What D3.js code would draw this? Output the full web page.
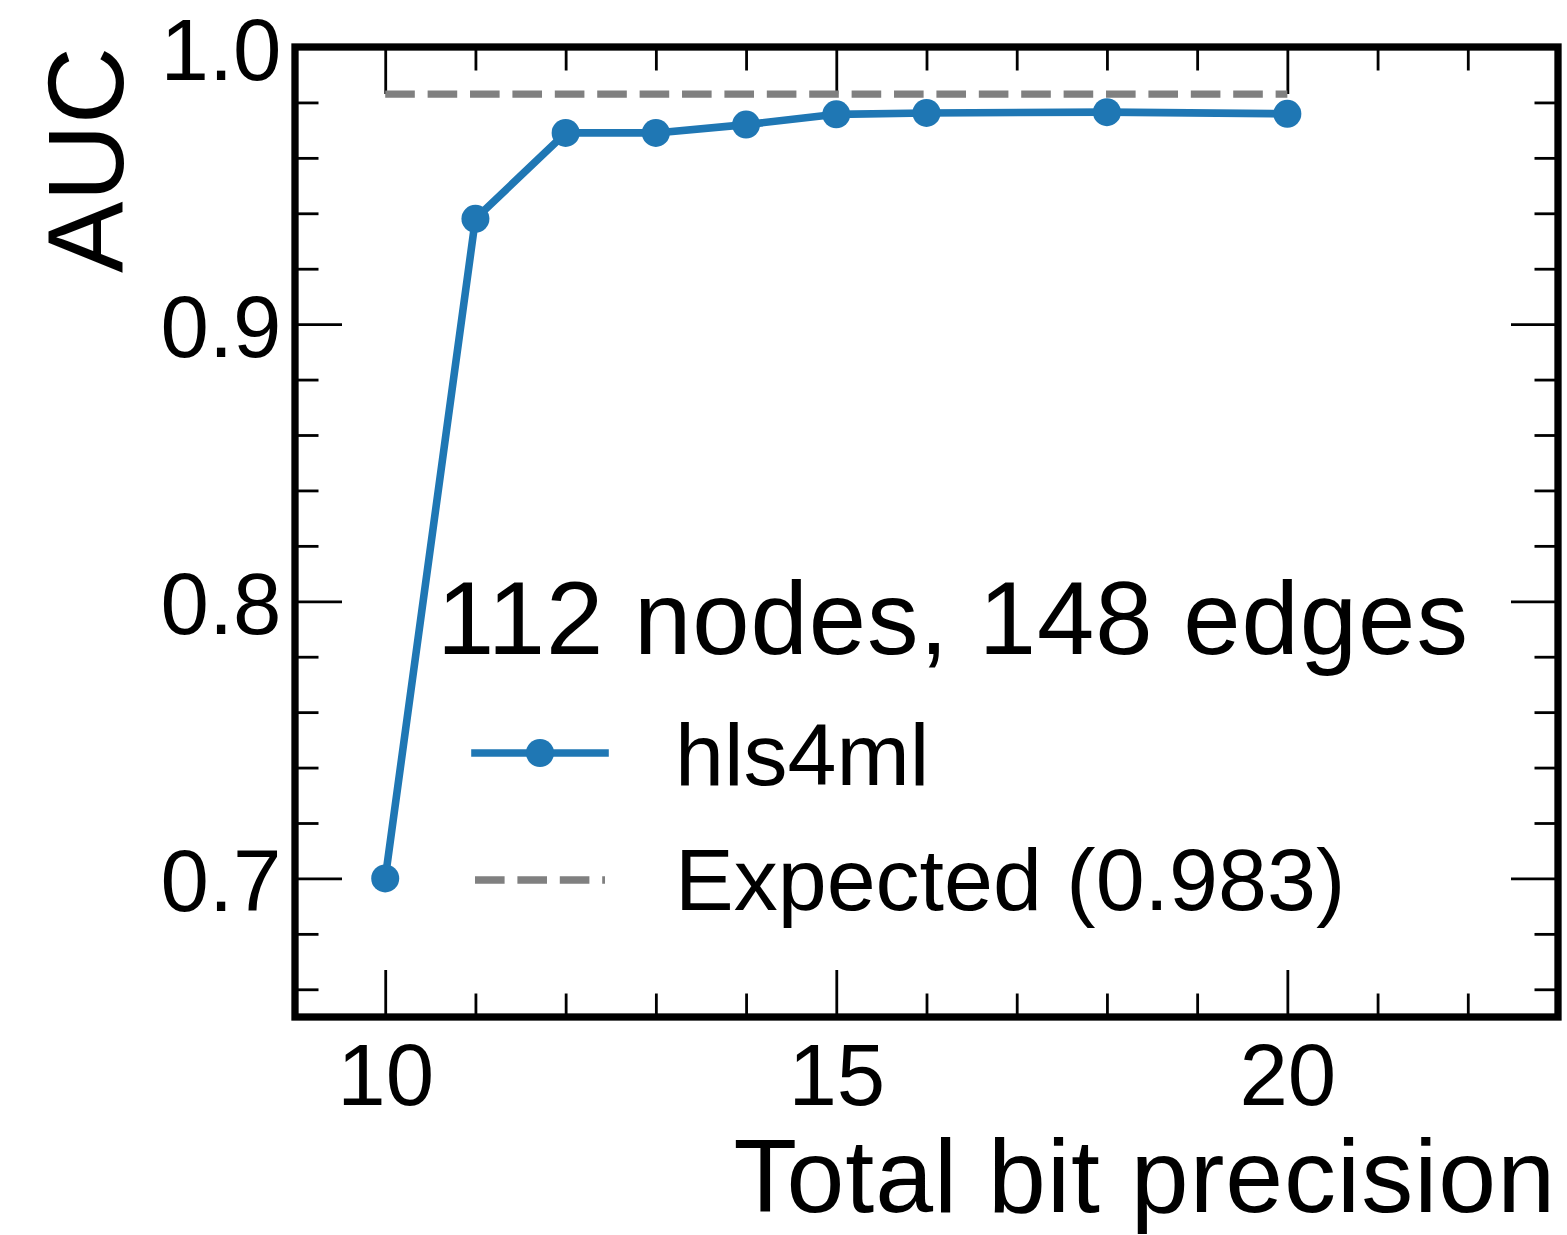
<!DOCTYPE html>
<html>
<head>
<meta charset="utf-8">
<script src="https://cdn.jsdelivr.net/npm/d3@7"></script>
<style>
  html, body { margin: 0; padding: 0; background: #fff; }
  svg { display: block; font-family: "Liberation Sans", Arial, Helvetica, sans-serif; }
</style>
</head>
<body>
<svg id="chart" width="1567" height="1235"></svg>
<script>
// AUC versus total bit precision of the fixed-point model
const bitPrecision = [10, 11, 12, 13, 14, 15, 16, 18, 20];
const aucValues    = [0.700, 0.938, 0.969, 0.969, 0.972, 0.9757, 0.9762, 0.9765, 0.9759];
const expectedAuc  = 0.983;
const expectedSpan = [10, 20];

const xMajorTicks = [10, 15, 20];
const xMinorTicks = [11, 12, 13, 14, 16, 17, 18, 19, 21, 22];
const yMajorTicks = [0.7, 0.8, 0.9, 1.0];
const yMinorTicks = [0.66, 0.68, 0.72, 0.74, 0.76, 0.78, 0.82, 0.84, 0.86, 0.88, 0.92, 0.94, 0.96, 0.98];

const legendTitle = "112 nodes, 148 edges";
const seriesLabel = "hls4ml";
const expectedLabel = "Expected (" + expectedAuc.toFixed(3) + ")";
const xTitle = "Total bit precision";
const yTitle = "AUC";

const blue = "#1f77b4";
const grey = "#808080";

const svg = d3.select("#chart");
const plot = { left: 295, right: 1558, top: 47, bottom: 1017 };

const x = d3.scaleLinear().domain([9, 23]).range([plot.left, plot.right]);
const y = d3.scaleLinear().domain([0.65, 1.0]).range([plot.bottom, plot.top]);

const tickFont = 87;
const majorLen = 47, minorLen = 23.5;

// Inward-pointing ticks on all four sides
function styleTicks(g, hideText) {
  g.select(".domain").remove();
  g.selectAll(".tick line").attr("stroke", "#000").attr("stroke-width", 2.8);
  if (hideText) g.selectAll(".tick text").remove();
  g.selectAll(".tick text").attr("fill", "#000").style("font-size", tickFont + "px");
}

// bottom major (with labels)
svg.append("g")
  .attr("transform", `translate(0,${plot.bottom})`)
  .call(d3.axisBottom(x).tickValues(xMajorTicks).tickFormat(d3.format("d"))
        .tickSize(-majorLen).tickPadding(26))
  .call(g => styleTicks(g, false));
svg.append("g")
  .attr("transform", `translate(0,${plot.bottom})`)
  .call(d3.axisBottom(x).tickValues(xMinorTicks).tickSize(-minorLen))
  .call(g => styleTicks(g, true));
// top mirrored
svg.append("g")
  .attr("transform", `translate(0,${plot.top})`)
  .call(d3.axisTop(x).tickValues(xMajorTicks).tickSize(-majorLen))
  .call(g => styleTicks(g, true));
svg.append("g")
  .attr("transform", `translate(0,${plot.top})`)
  .call(d3.axisTop(x).tickValues(xMinorTicks).tickSize(-minorLen))
  .call(g => styleTicks(g, true));
// left major (with labels)
svg.append("g")
  .attr("transform", `translate(${plot.left},0)`)
  .call(d3.axisLeft(y).tickValues(yMajorTicks).tickFormat(d3.format(".1f"))
        .tickSize(-majorLen).tickPadding(13.5))
  .call(g => styleTicks(g, false))
  .call(g => g.selectAll(".tick text").attr("dy", "0.37em"));
svg.append("g")
  .attr("transform", `translate(${plot.left},0)`)
  .call(d3.axisLeft(y).tickValues(yMinorTicks).tickSize(-minorLen))
  .call(g => styleTicks(g, true));
// right mirrored
svg.append("g")
  .attr("transform", `translate(${plot.right},0)`)
  .call(d3.axisRight(y).tickValues(yMajorTicks).tickSize(-majorLen))
  .call(g => styleTicks(g, true));
svg.append("g")
  .attr("transform", `translate(${plot.right},0)`)
  .call(d3.axisRight(y).tickValues(yMinorTicks).tickSize(-minorLen))
  .call(g => styleTicks(g, true));

// Expected AUC reference line
svg.append("line")
  .attr("x1", x(expectedSpan[0])).attr("x2", x(expectedSpan[1]))
  .attr("y1", y(expectedAuc)).attr("y2", y(expectedAuc))
  .attr("stroke", grey).attr("stroke-width", 7.4)
  .attr("stroke-dasharray", "29.6,12.8");

// hls4ml series
const pts = bitPrecision.map((b, i) => [b, aucValues[i]]);
svg.append("path")
  .datum(pts)
  .attr("fill", "none")
  .attr("stroke", blue).attr("stroke-width", 7.6)
  .attr("stroke-linejoin", "round").attr("stroke-linecap", "square")
  .attr("d", d3.line().x(d => x(d[0])).y(d => y(d[1])));
svg.append("g").selectAll("circle")
  .data(pts).join("circle")
  .attr("cx", d => x(d[0])).attr("cy", d => y(d[1]))
  .attr("r", 14).attr("fill", blue);

// Axes frame
svg.append("rect")
  .attr("x", plot.left).attr("y", plot.top)
  .attr("width", plot.right - plot.left).attr("height", plot.bottom - plot.top)
  .attr("fill", "none").attr("stroke", "#000").attr("stroke-width", 7.3);

// Axis titles (right / top aligned)
svg.append("text")
  .attr("x", 1556).attr("y", 1212)
  .attr("text-anchor", "end")
  .style("font-size", "104px")
  .style("letter-spacing", "1px")
  .text(xTitle);
svg.append("text")
  .attr("transform", "translate(123,47) rotate(-90)")
  .attr("text-anchor", "end")
  .style("font-size", "107px")
  .text(yTitle);

// Legend
const legend = svg.append("g");
legend.append("text")
  .attr("x", 953).attr("y", 654)
  .attr("text-anchor", "middle")
  .style("font-size", "103px")
  .style("letter-spacing", "1px")
  .text(legendTitle);
legend.append("line")
  .attr("x1", 475).attr("x2", 605).attr("y1", 753).attr("y2", 753)
  .attr("stroke", blue).attr("stroke-width", 7.6).attr("stroke-linecap", "square");
legend.append("circle")
  .attr("cx", 540).attr("cy", 753).attr("r", 14).attr("fill", blue);
legend.append("text")
  .attr("x", 675).attr("y", 785)
  .style("font-size", "88px")
  .text(seriesLabel);
legend.append("line")
  .attr("x1", 475).attr("x2", 605).attr("y1", 880).attr("y2", 880)
  .attr("stroke", grey).attr("stroke-width", 7.4)
  .attr("stroke-dasharray", "29.6,12.8");
legend.append("text")
  .attr("x", 675).attr("y", 910)
  .style("font-size", "88px")
  .text(expectedLabel);
</script>
</body>
</html>
